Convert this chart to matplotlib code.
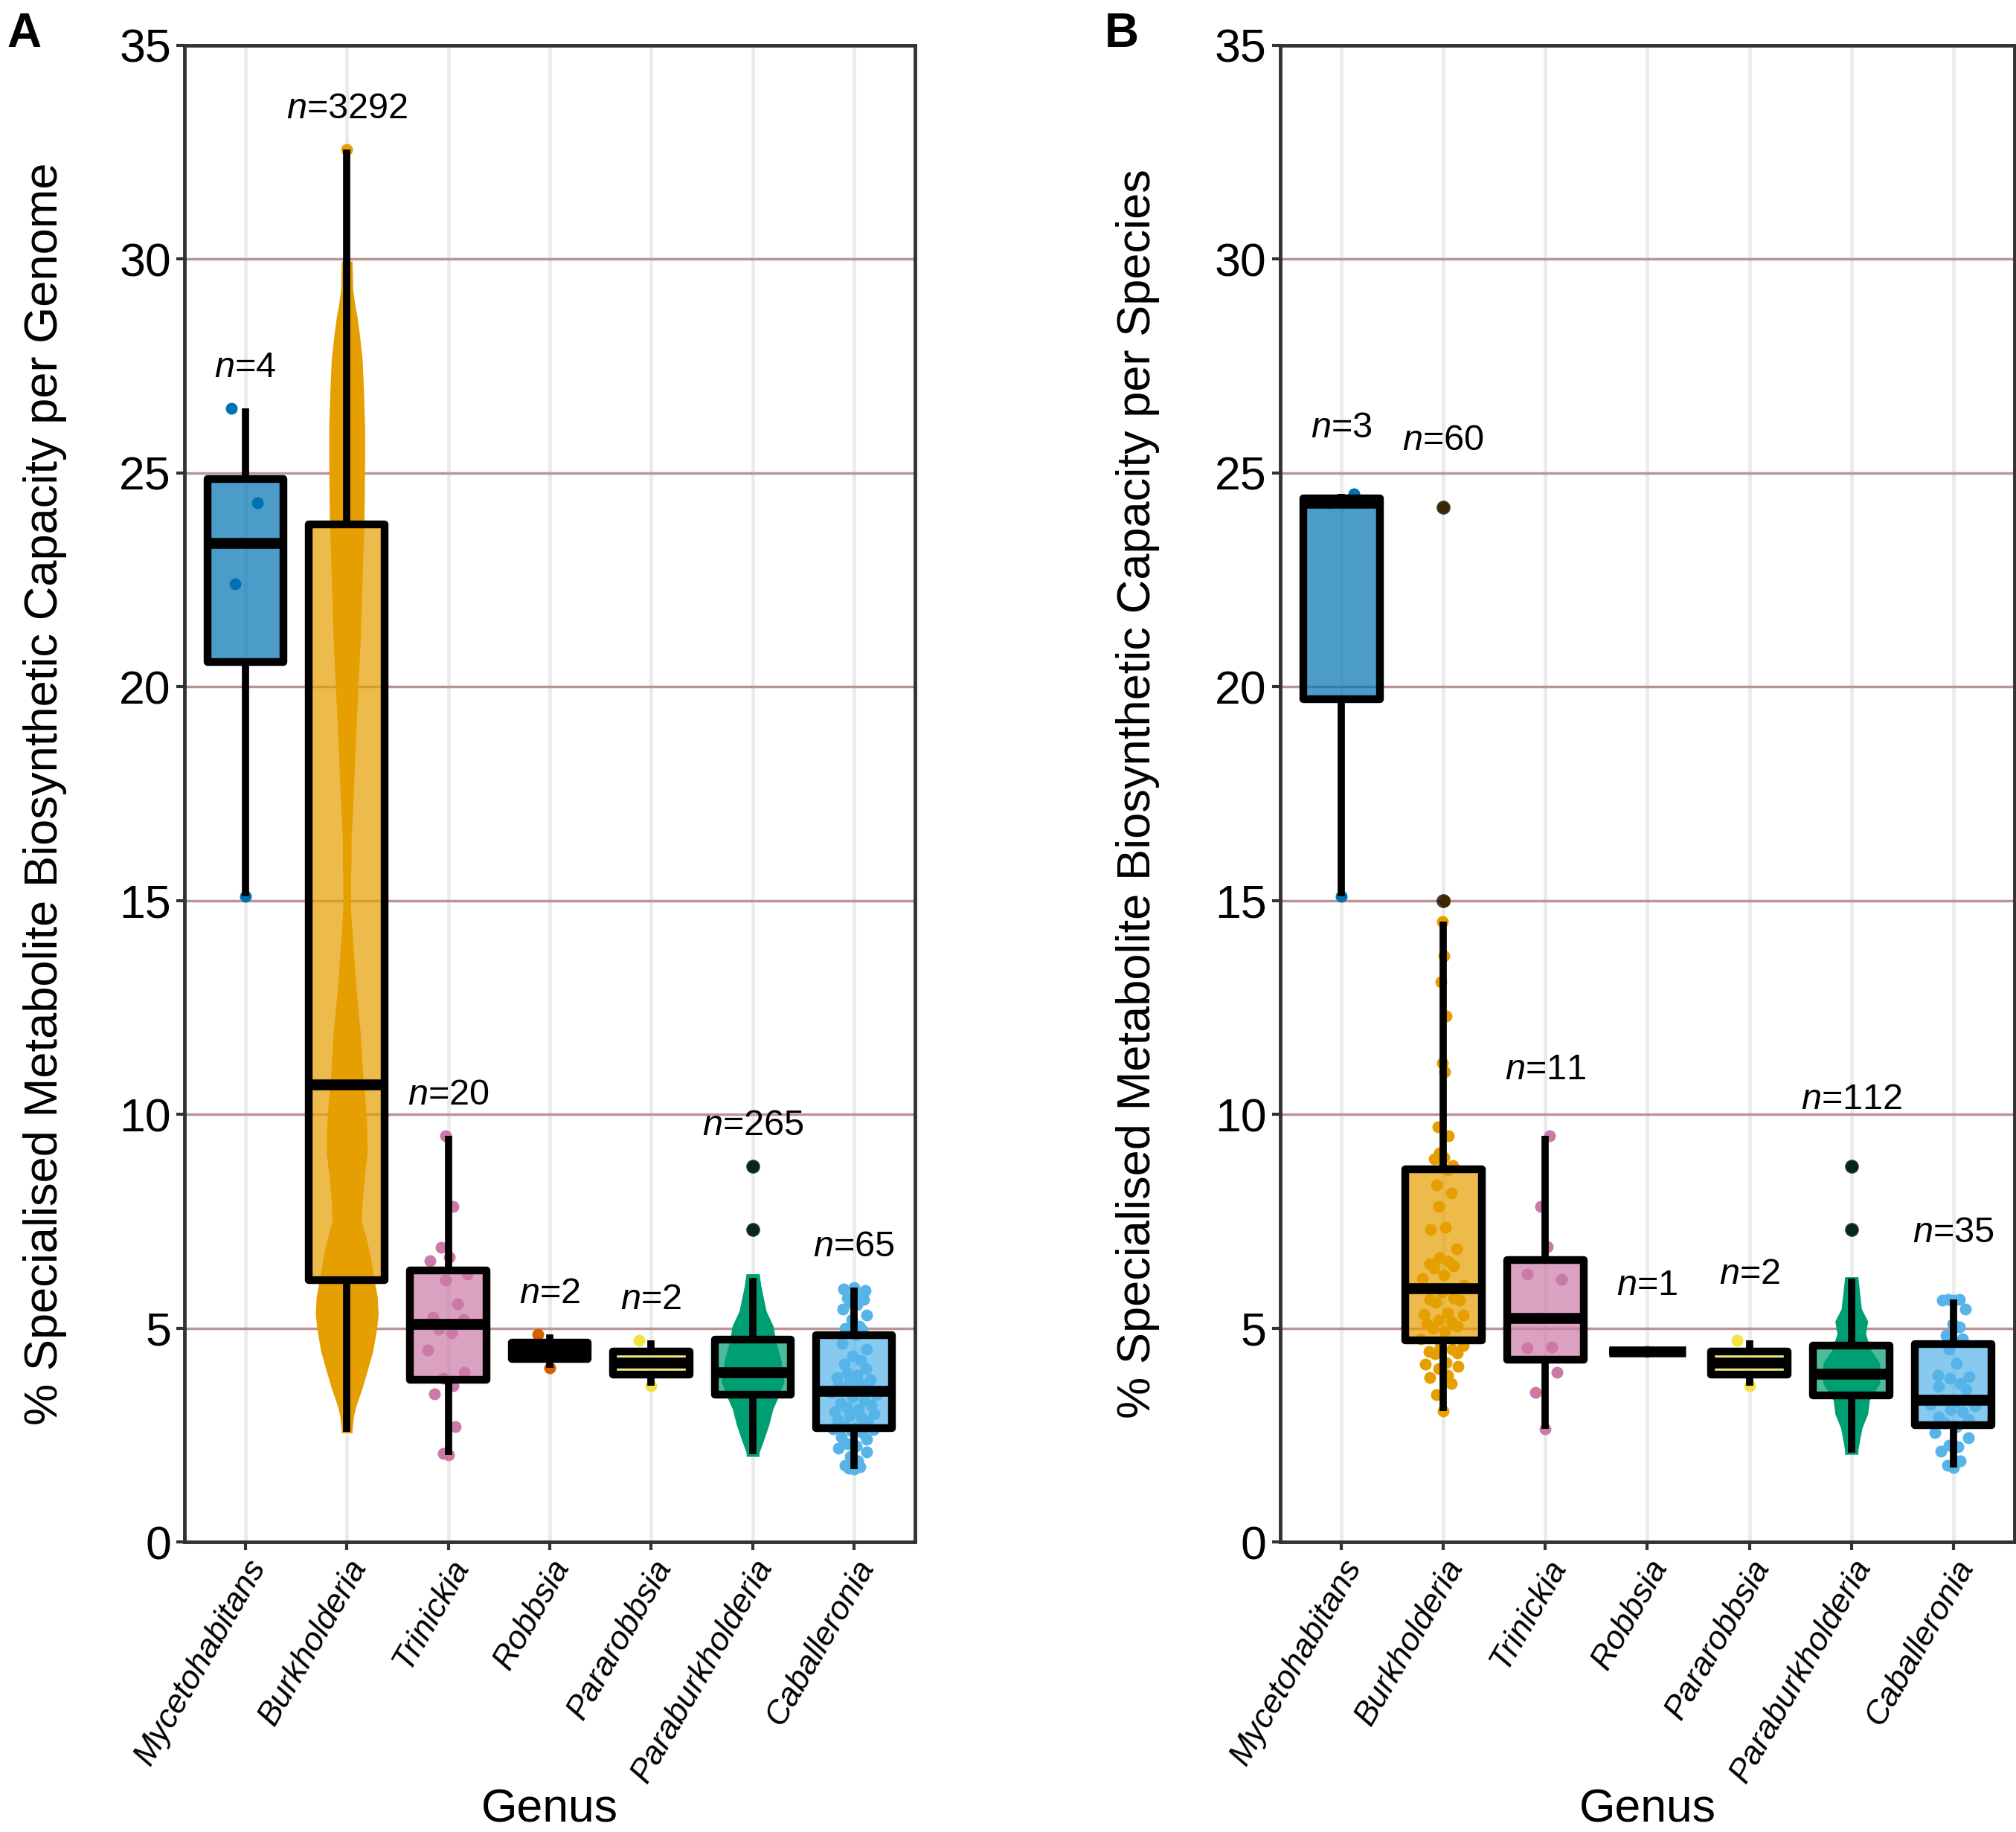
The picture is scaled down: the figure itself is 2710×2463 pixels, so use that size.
import numpy as np
import matplotlib
matplotlib.use('Agg')
import matplotlib.pyplot as plt
from matplotlib.cbook import boxplot_stats

plt.rcParams['font.family'] = ['Liberation Sans', 'DejaVu Sans']
plt.rcParams['mathtext.fontset'] = 'custom'
plt.rcParams['mathtext.it'] = 'Liberation Sans:italic'
plt.rcParams['mathtext.rm'] = 'Liberation Sans'

# Dados
generos = ['Mycetohabitans', 'Burkholderia', 'Trinickia', 'Robbsia',
           'Pararobbsia', 'Paraburkholderia', 'Caballeronia']
cores = ['#0072B2', '#E69F00', '#CC79A7', '#D55E00', '#F0E442', '#009E73', '#56B4E9']

# --- Painel A: por genoma ---
n_a = [4, 3292, 20, 2, 2, 265, 65]
myceto_a = [26.5, 24.3, 22.4, 15.1]
trini_a = [9.5, 7.85, 6.89, 6.67, 6.58, 6.27, 6.13, 5.56, 5.25, 5.2,
           4.98, 4.89, 4.49, 3.96, 3.83, 3.65, 3.47, 2.70, 2.08, 2.03]
robb_a = [4.85, 4.08]
pararobb_a = [4.71, 3.66]
cabal_a = [1.70, 1.72, 1.75, 1.80, 1.90, 2.00, 2.10, 2.20, 2.25, 2.30, 2.40, 2.45, 2.55, 2.60,
           2.62, 2.64, 2.66, 2.72, 2.80, 2.85, 2.90, 2.95, 3.00, 3.05, 3.10, 3.15, 3.20, 3.25,
           3.30, 3.40, 3.45, 3.50, 3.54,
           3.56, 3.60, 3.65, 3.70, 3.75, 3.80, 3.85, 3.90, 3.95, 4.05, 4.15, 4.25, 4.35, 4.50,
           4.65, 4.83,
           4.90, 4.95, 5.00, 5.05, 5.20, 5.30, 5.45, 5.55, 5.60, 5.68, 5.70, 5.72, 5.75, 5.88,
           5.92, 5.95]

# Burkholderia (n=3292) e Paraburkholderia (n=265): caixa + perfil do enxame
burk_a_caixa = dict(q1=6.12, med=10.7, q3=23.8, whislo=2.57, whishi=32.55)
burk_a_isolados = [32.55]
burk_a_perfil_y = [2.55, 2.61, 2.96, 3.19, 3.6, 4.0, 4.47, 4.99, 5.33, 5.74, 6.2, 6.67, 7.07,
                   7.48, 7.95, 8.52, 9.1, 9.69, 10.27, 10.8, 11.9, 12.9, 13.95, 14.8, 15.4,
                   16.0, 16.5, 17.0, 19.1, 21.1, 23.9, 25.2, 26.1, 27.0, 27.65, 28.2, 28.64,
                   28.96, 29.3, 29.7, 29.95]
burk_a_perfil_d = [0.17, 0.17, 0.22, 0.30, 0.49, 0.65, 0.83, 0.95, 1.0, 0.97, 0.85, 0.75, 0.63,
                   0.47, 0.49, 0.56, 0.65, 0.64, 0.59, 0.52, 0.43, 0.30, 0.20, 0.12, 0.12,
                   0.14, 0.14, 0.18, 0.30, 0.43, 0.55, 0.57, 0.57, 0.53, 0.49, 0.41, 0.33,
                   0.25, 0.19, 0.18, 0.17]

parab_a_caixa = dict(q1=3.44, med=3.96, q3=4.73, whislo=2.06, whishi=6.18)
parab_a_outliers = [8.79, 7.31]
parab_a_perfil_y = [2.0, 2.1, 2.4, 2.75, 3.1, 3.35, 3.75, 4.25, 4.65, 5.05, 5.4, 6.0, 6.27]
parab_a_perfil_d = [0.2, 0.21, 0.36, 0.52, 0.64, 0.79, 1.0, 0.9, 0.75, 0.65, 0.43, 0.26, 0.21]

# --- Painel B: por espécie ---
n_b = [3, 60, 11, 1, 2, 112, 35]
myceto_b = [24.5, 24.3, 15.1]
burk_b = [3.06, 3.45, 3.7, 3.85, 3.9, 4.05, 4.1, 4.15, 4.2, 4.4, 4.42, 4.45, 4.5, 4.55, 4.6,
          4.75, 4.92, 5.0, 5.05, 5.1, 5.15, 5.18, 5.3, 5.32, 5.35, 5.6, 5.65, 5.68, 5.7, 5.85,
          6.0, 6.15, 6.25, 6.4, 6.45, 6.5, 6.55, 6.65, 6.85, 7.3, 7.35, 7.85, 8.15, 8.35, 8.7,
          8.75, 8.8, 8.95, 9.0, 9.1, 9.5, 9.7, 11.0, 11.2, 12.3, 13.1, 13.7, 14.5, 15.0, 24.2]
trini_b = [9.49, 7.85, 6.9, 6.27, 6.14, 5.24, 4.56, 4.54, 3.97, 3.49, 2.64]
robb_b = [4.45]
pararobb_b = [4.71, 3.66]
cabal_b = [1.74, 1.80, 1.89, 2.12, 2.23, 2.26, 2.44, 2.55, 2.70, 2.78, 2.87, 2.93, 3.05, 3.10,
           3.19, 3.22, 3.28, 3.32,
           3.57, 3.63, 3.71, 3.83, 3.86, 3.89, 4.18, 4.5, 4.75, 4.84, 5.02, 5.1, 5.45, 5.65,
           5.66, 5.67, 5.68]

parab_b_caixa = dict(q1=3.43, med=3.94, q3=4.59, whislo=2.09, whishi=6.15)
parab_b_outliers = [8.79, 7.31]
parab_b_perfil_y = [2.05, 2.15, 2.44, 2.67, 3.0, 3.31, 3.71, 4.18, 4.47, 4.87, 5.16, 5.45, 5.92, 6.2]
parab_b_perfil_d = [0.21, 0.21, 0.28, 0.34, 0.52, 0.57, 0.9, 0.9, 0.63, 0.45, 0.52, 0.32, 0.25, 0.21]

# Estilo
LARG_CAIXA = 0.75
LARG_ENXAME = 0.24      # deslocamento máximo (quasirandom)
LARG_PERFIL = 0.31      # meia-largura externa máxima do enxame denso
PONTO = 11.5
LW_CAIXA = 7.5
LW_BIGODE = 7.0
LW_MEDIANA = 10.5
COR_GRADE_H = '#BC9494'
COR_GRADE_V = '#EBEBEB'
COR_EIXO = '#333333'


def van_der_corput(n):
    seq = []
    for i in range(1, n + 1):
        v, denom, k = 0.0, 1.0, i
        while k:
            denom *= 2
            k, r = divmod(k, 2)
            v += r / denom
        seq.append(v)
    return np.array(seq)


def deslocamentos_quasirandom(valores, largura):
    y = np.asarray(valores, float)
    n = len(y)
    if n < 2:
        return np.zeros(n)
    q75, q25 = np.percentile(y, [75, 25])
    lo = min(y.std(ddof=1), (q75 - q25) / 1.34)
    if lo <= 0:
        lo = y.std(ddof=1)
    bw = 0.9 * lo * n ** -0.2
    grade = np.linspace(y.min() - 3 * bw, y.max() + 3 * bw, 512)
    dens = lambda t: np.exp(-0.5 * ((t[:, None] - y[None, :]) / bw) ** 2).sum(axis=1)
    d = dens(y) / dens(grade).max()
    ranks = np.argsort(np.argsort(y, kind='stable'), kind='stable')
    return (van_der_corput(n)[ranks] - 0.5) * 2 * d * largura


def desenhar_painel(ax, grupos, ns, deslocamento_rotulo):
    stats = []
    topo = []
    for i, g in enumerate(grupos):
        x = i + 1
        if g['tipo'] == 'pontos':
            vals = np.asarray(g['valores'], float)
            dx = deslocamentos_quasirandom(vals, LARG_ENXAME)
            ax.scatter(x + dx, vals, s=PONTO ** 2, color=cores[i], linewidths=0, zorder=2)
            st = boxplot_stats(vals, whis=1.5)[0]
            topo.append(vals.max())
        else:
            py = np.asarray(g['perfil_y'])
            hw = np.asarray(g['perfil_d']) * LARG_PERFIL
            ax.fill_betweenx(py, x - hw, x + hw, color=cores[i], linewidth=0, zorder=2)
            extras = list(g.get('isolados', [])) + list(g.get('outliers', []))
            if extras:
                ax.scatter([x] * len(extras), extras, s=PONTO ** 2, color=cores[i],
                           linewidths=0, zorder=2)
            st = dict(g['caixa'])
            st['fliers'] = np.asarray(g.get('outliers', []))
            topo.append(max([st['whishi']] + extras))
        stats.append(st)

    ax.bxp(stats, positions=range(1, len(grupos) + 1), widths=LARG_CAIXA,
           patch_artist=True, showcaps=False, showfliers=True,
           boxprops=dict(linewidth=LW_CAIXA, edgecolor='black', joinstyle='round', zorder=3),
           whiskerprops=dict(linewidth=LW_BIGODE, color='black', solid_capstyle='butt', zorder=4),
           medianprops=dict(linewidth=LW_MEDIANA, color='black', solid_capstyle='butt', zorder=4),
           flierprops=dict(marker='o', markerfacecolor='black', markeredgewidth=0,
                           markersize=PONTO + 2, alpha=0.75, zorder=5),
           manage_ticks=False)
    for patch, cor in zip(ax.patches, cores):
        patch.set_facecolor(matplotlib.colors.to_rgba(cor, 0.7))

    for i, (n, t) in enumerate(zip(ns, topo)):
        ax.text(i + 1, t + deslocamento_rotulo, f'$\\mathit{{n}}$={n}', fontsize=35,
                ha='center', va='center', zorder=6)

    ax.set_xlim(0.4, len(grupos) + 0.6)
    ax.set_ylim(0, 35)
    ax.set_yticks(range(0, 36, 5))
    ax.set_xticks(range(1, len(grupos) + 1))
    ax.set_xticklabels(generos, rotation=60, ha='right', va='top', rotation_mode='anchor',
                       style='italic', fontsize=32)
    ax.tick_params(axis='y', labelsize=45, length=8, width=3, color=COR_EIXO, pad=5)
    ax.tick_params(axis='x', length=8, width=3, color=COR_EIXO, pad=4)
    ax.set_axisbelow(True)
    ax.grid(axis='x', color=COR_GRADE_V, linewidth=3.5)
    ax.grid(axis='y', color=COR_GRADE_H, linewidth=2.5)
    for sp in ax.spines.values():
        sp.set_color(COR_EIXO)
        sp.set_linewidth(3.5)
    ax.set_xlabel('Genus', fontsize=45, va='center')
    ax.xaxis.set_label_coords(0.5, -0.179)


grupos_a = [
    dict(tipo='pontos', valores=myceto_a),
    dict(tipo='perfil', caixa=burk_a_caixa, perfil_y=burk_a_perfil_y,
         perfil_d=burk_a_perfil_d, isolados=burk_a_isolados),
    dict(tipo='pontos', valores=trini_a),
    dict(tipo='pontos', valores=robb_a),
    dict(tipo='pontos', valores=pararobb_a),
    dict(tipo='perfil', caixa=parab_a_caixa, perfil_y=parab_a_perfil_y,
         perfil_d=parab_a_perfil_d, outliers=parab_a_outliers),
    dict(tipo='pontos', valores=cabal_a),
]
grupos_b = [
    dict(tipo='pontos', valores=myceto_b),
    dict(tipo='pontos', valores=burk_b),
    dict(tipo='pontos', valores=trini_b),
    dict(tipo='pontos', valores=robb_b),
    dict(tipo='pontos', valores=pararobb_b),
    dict(tipo='perfil', caixa=parab_b_caixa, perfil_y=parab_b_perfil_y,
         perfil_d=parab_b_perfil_d, outliers=parab_b_outliers),
    dict(tipo='pontos', valores=cabal_b),
]

fig = plt.figure(figsize=(27.1, 24.63), dpi=100)
ax_a = fig.add_axes([0.0915, 0.1583, 0.3624, 0.8171])
ax_b = fig.add_axes([0.635, 0.1583, 0.3643, 0.8171])

desenhar_painel(ax_a, grupos_a, n_a, 0.95)
desenhar_painel(ax_b, grupos_b, n_b, 1.55)

ax_a.set_ylabel('% Specialised Metabolite Biosynthetic Capacity per Genome', fontsize=45.5,
                va='center')
ax_a.yaxis.set_label_coords(-0.191, 0.5)
ax_b.set_ylabel('% Specialised Metabolite Biosynthetic Capacity per Species', fontsize=45.5,
                va='center')
ax_b.yaxis.set_label_coords(-0.194, 0.5)

fig.text(0.0035, 0.9935, 'A', fontsize=46, fontweight='bold', va='top', ha='left')
fig.text(0.548, 0.9935, 'B', fontsize=46, fontweight='bold', va='top', ha='left')

plt.savefig('out.png', dpi=100)
